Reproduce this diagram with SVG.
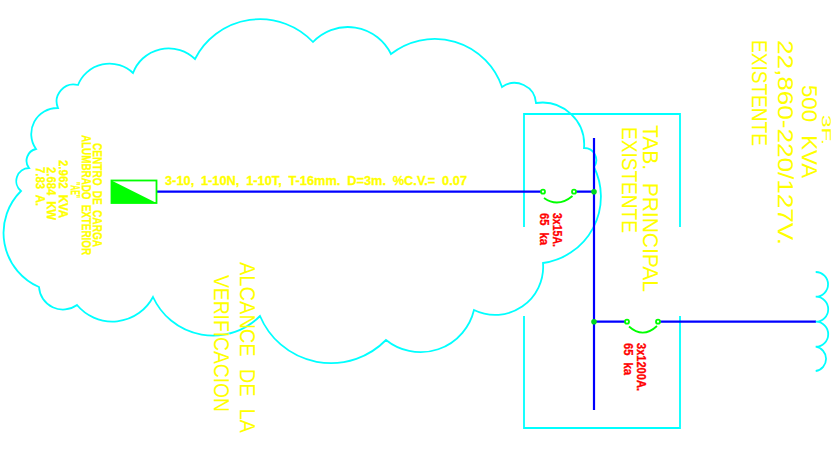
<svg xmlns="http://www.w3.org/2000/svg" width="835" height="458" viewBox="0 0 835 458">
<style>
.c{fill:none;stroke:#00ffff;stroke-width:1.8}
.b{fill:none;stroke:#0000ff;stroke-width:2.2}
.g{fill:none;stroke:#00ff00;stroke-width:1.8}
text{font-family:"Liberation Sans",Arial,sans-serif}
.y{fill:#ffff00}
.s{font-size:12px;font-weight:bold;word-spacing:3px;stroke:#ffff00;stroke-width:.3}
.l{font-size:22px;word-spacing:7px}
.r{fill:#ff0000;font-size:12px;font-weight:bold;word-spacing:4px;stroke:#ff0000;stroke-width:.3}
</style>
<rect width="835" height="458" fill="#ffffff"/>
<g id="cloud">
<path class="c" d="M21 191A13 13 0 0 1 29 168A12 12 0 0 1 36 149A26 26 0 0 1 58 108A17 17 0 0 1 78 85A34 34 0 0 1 133 73A38 38 0 0 1 195 59A73 73 0 0 1 313 42A48 48 0 0 1 391 54A71 71 0 0 1 502 87A21.5 21.5 0 0 1 536 103A42 42 0 0 1 584 148A12 12 0 0 1 594 167A67 67 0 0 1 543 263A48 48 0 0 1 474 310A55 55 0 0 1 386 340A77 77 0 0 1 260 316A66 66 0 0 1 153 297A46 46 0 0 1 77 305A24 24 0 0 1 39 287A59 59 0 0 1 21 191Z"/>
</g>
<g id="panel">
<path class="c" d="M524 227V114H680V227M524 316V428H680V316"/>
<text class="y l" transform="translate(643 125) rotate(90)" textLength="167" lengthAdjust="spacingAndGlyphs">TAB. PRINCIPAL</text>
<text class="y l" transform="translate(622 127) rotate(90)" textLength="106" lengthAdjust="spacingAndGlyphs">EXISTENTE</text>
</g>
<g id="connectors">
<path class="b" d="M594 138V410M156.500 191.700H541M576 191.700H594M594 321.700H625M660 321.700H816"/>
</g>
<g id="load">
<rect x="111.500" y="180.500" width="45" height="22.500" fill="#ffffff" stroke="#00ff00" stroke-width="1.800"/>
<path d="M111.500 180.500L156.500 203H111.500Z" fill="#00ff00"/>
<text class="y s" transform="translate(93 143) rotate(90)" textLength="104" lengthAdjust="spacingAndGlyphs">CENTRO DE CARGA</text>
<text class="y s" transform="translate(82 135) rotate(90)" textLength="120" lengthAdjust="spacingAndGlyphs">ALUMBRADO EXTERIOR</text>
<text class="y s" transform="translate(70.500 182) rotate(90)" textLength="16" lengthAdjust="spacingAndGlyphs">"AE"</text>
<text class="y s" transform="translate(58.500 160) rotate(90)" textLength="58" lengthAdjust="spacingAndGlyphs">2.962 KVA</text>
<text class="y s" transform="translate(46.500 167) rotate(90)" textLength="53" lengthAdjust="spacingAndGlyphs">2.684 KW</text>
<text class="y s" transform="translate(35.500 167) rotate(90)" textLength="39" lengthAdjust="spacingAndGlyphs">7.83 A.</text>
</g>
<g id="feeder-label">
<text class="y s" x="165" y="185" textLength="302" lengthAdjust="spacingAndGlyphs">3-10, 1-10N, 1-10T, T-16mm. D=3m. %C.V.= 0.07</text>
</g>
<g id="breaker-1">
<circle class="g" cx="543" cy="191.700" r="2"/>
<circle class="g" cx="574" cy="191.700" r="2"/>
<path class="g" d="M544 198Q558 208 572.500 196"/>
<text class="r" transform="translate(553 213) rotate(90)" textLength="34" lengthAdjust="spacingAndGlyphs">3x15A.</text>
<text class="r" transform="translate(540 213) rotate(90)" textLength="32" lengthAdjust="spacingAndGlyphs">65 ka</text>
</g>
<g id="breaker-2">
<circle class="g" cx="627" cy="321.700" r="2"/>
<circle class="g" cx="658" cy="321.700" r="2"/>
<path class="g" d="M629 326.500Q643 339 657 326"/>
<text class="r" transform="translate(637 343) rotate(90)" textLength="48" lengthAdjust="spacingAndGlyphs">3x1200A.</text>
<text class="r" transform="translate(624 343) rotate(90)" textLength="32" lengthAdjust="spacingAndGlyphs">65 ka</text>
</g>
<g id="junctions">
<circle cx="594" cy="191.700" r="2.800" fill="#00d820"/>
<circle cx="594" cy="321.700" r="2.800" fill="#00d820"/>
</g>
<g id="transformer">
<path class="c" d="M815.700 272A12.300 12.300 0 0 1 815.700 296.700A12.300 12.300 0 0 1 815.700 321.700A12.300 12.300 0 0 1 815.700 346.700A12.300 12.300 0 0 1 815.700 371"/>
<text class="y" font-size="13" transform="translate(822 115) rotate(90)" textLength="30" lengthAdjust="spacingAndGlyphs">3F.</text>
<text class="y l" transform="translate(802 85) rotate(90)" textLength="93" lengthAdjust="spacingAndGlyphs">500 KVA</text>
<text class="y l" transform="translate(778 40) rotate(90)" textLength="205" lengthAdjust="spacingAndGlyphs">22,860-220/127V.</text>
<text class="y l" transform="translate(752 40) rotate(90)" textLength="106" lengthAdjust="spacingAndGlyphs">EXISTENTE</text>
</g>
<g id="scope-label">
<text class="y l" transform="translate(240 262) rotate(90)" textLength="171" lengthAdjust="spacingAndGlyphs">ALCANCE DE LA</text>
<text class="y l" transform="translate(214 275) rotate(90)" textLength="137" lengthAdjust="spacingAndGlyphs">VERIFICACION</text>
</g>
</svg>
